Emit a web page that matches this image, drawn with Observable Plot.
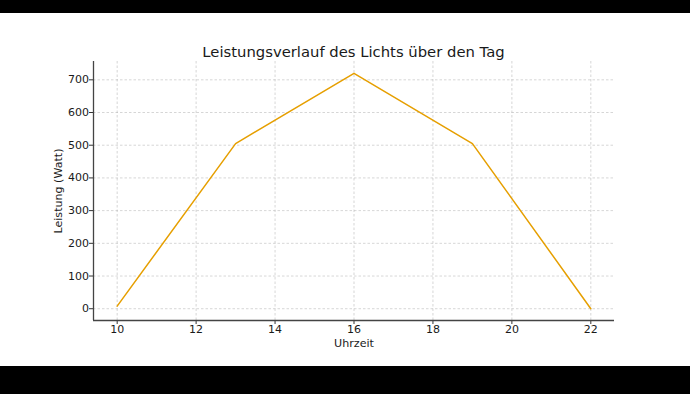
<!DOCTYPE html>
<html>
<head>
<meta charset="utf-8">
<script src="https://cdn.jsdelivr.net/npm/d3@7"></script>
<script src="https://cdn.jsdelivr.net/npm/@observablehq/plot@0.6"></script>
<style>
  html, body { margin: 0; padding: 0; background: #000; width: 690px; height: 394px; overflow: hidden; }
  #panel { position: absolute; left: 0; top: 13px; width: 690px; height: 353px; background: #fff; }
  #title { position: absolute; left: 93px; width: 521px; top: 31.5px; text-align: center;
           font-family: "DejaVu Sans", sans-serif; font-size: 14.8px; line-height: 14.8px; color: #1a1a1a; white-space: nowrap; }
  #chart { position: absolute; left: 0; top: 47px; }
</style>
</head>
<body>
<div id="panel">
  <div id="title">Leistungsverlauf des Lichts über den Tag</div>
  <div id="chart"></div>
</div>
<script>
const hours = [10, 13, 16, 19, 22];
const watts = [8, 505, 720, 505, 0];
const xTicks = [10, 12, 14, 16, 18, 20, 22];
const yTicks = [0, 100, 200, 300, 400, 500, 600, 700];
const xLabel = "Uhrzeit";
const yLabel = "Leistung (Watt)";

const data = hours.map((h, i) => ({hour: h, watt: watts[i]}));

const plot = Plot.plot({
  width: 690,
  height: 306,
  marginTop: 1,
  marginBottom: 46,
  marginLeft: 93,
  marginRight: 76,
  style: {fontFamily: "DejaVu Sans, sans-serif", fontSize: "11px", color: "#1a1a1a", background: "transparent", overflow: "visible"},
  x: {domain: [9.4, 22.6]},
  y: {domain: [-36, 756]},
  marks: [
    Plot.gridX(xTicks, {stroke: "#b0b0b0", strokeOpacity: 0.65, strokeWidth: 0.8, strokeDasharray: "2.5,2"}),
    Plot.gridY(yTicks, {stroke: "#b0b0b0", strokeOpacity: 0.65, strokeWidth: 0.8, strokeDasharray: "2.5,2"}),
    Plot.line(data, {x: "hour", y: "watt", stroke: "#E69F00", strokeWidth: 1.5}),
    Plot.axisX(xTicks, {tickSize: 4, tickPadding: 1, label: null, stroke: "#333", fill: "#1a1a1a"}),
    Plot.axisY(yTicks, {tickSize: 4, tickPadding: 0.5, label: null, stroke: "#333", fill: "#1a1a1a"}),
    Plot.ruleX([9.4], {stroke: "#444", strokeWidth: 1.3}),
    Plot.ruleY([-36], {stroke: "#444", strokeWidth: 1.3}),
    Plot.text([xLabel], {frameAnchor: "bottom", textAnchor: "middle", lineAnchor: "middle", dy: 22.7, fontSize: 11.1, fill: "#1a1a1a"}),
    Plot.text([yLabel], {frameAnchor: "left", textAnchor: "middle", lineAnchor: "middle", dx: -35, rotate: -90, fontSize: 11.1, fill: "#1a1a1a"})
  ]
});
document.getElementById("chart").appendChild(plot);
</script>
</body>
</html>
